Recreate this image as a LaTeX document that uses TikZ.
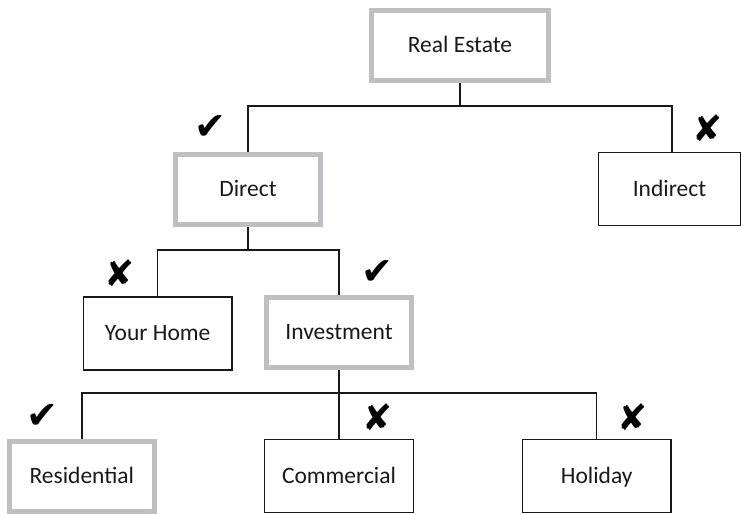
\documentclass[tikz,border=0pt]{standalone}
\usepackage{fontspec}
\setmainfont{Carlito}
\newfontfamily\markfont{DejaVu Sans}
\usetikzlibrary{backgrounds}
\definecolor{boxgray}{RGB}{190,190,195}
\definecolor{ink}{RGB}{25,25,25}
\tikzset{
  label text/.style={text=ink, font=\fontsize{23.5}{27}\selectfont,
    text height=14.5pt, text depth=0pt},
  chosen/.style={draw=boxgray, line width=5pt, fill=white,
    minimum width=145pt, minimum height=70pt, inner sep=0pt, label text},
  other/.style={draw=ink, line width=1.4pt, fill=white,
    minimum width=148.5pt, minimum height=73pt, inner sep=0pt, label text},
  link/.style={draw=ink, line width=1.4pt},
  yes/.style={text=black, font=\markfont\fontsize{38}{40}\selectfont, inner sep=0pt},
  no/.style={text=black, font=\markfont\fontsize{36}{40}\selectfont, inner sep=0pt}
}
\begin{document}
\begin{tikzpicture}[x=1pt, y=-1pt]
\useasboundingbox (0,0) rectangle (742,514);

% boxes
\node[chosen, minimum width=177pt] (re) at (460,45.5) {Real Estate};
\node[chosen] (direct) at (248,189.5) {Direct};
\node[other, minimum width=142.5pt, minimum height=72.5pt] (indirect) at (669.5,189) {Indirect};
\node[other] (home) at (157.7,333.5) {Your Home};
\node[chosen] (invest) at (339,332.5) {Investment};
\node[chosen] (resid) at (81.8,476.5) {Residential};
\node[other, minimum height=72.5pt] (comm) at (339,476) {Commercial};
\node[other, minimum height=72.5pt] (holiday) at (596.7,476) {Holiday};

% junction points of the tree
\coordinate (j1) at (460,106);
\coordinate (j2) at (248,250);
\coordinate (j3) at (339,393);
\coordinate (ind) at (672,152);

\begin{scope}[on background layer]
  \draw[link] (re.south) -- (j1);
  \draw[link] (direct.north) |- (j1) -| (ind);
  \draw[link] (direct.south) -- (j2);
  \draw[link] (home.north) |- (j2) -| (invest.north);
  \draw[link] (invest.south) -- (j3);
  \draw[link] (resid.north) |- (j3) -| (holiday.north);
  \draw[link] (j3) -- (comm.north);
\end{scope}

% ticks and crosses
\node[yes] (m1) at (210,128) {✔};
\node[no]  (m2) at (708,128) {✘};
\node[no]  (m3) at (120,273) {✘};
\node[yes] (m4) at (377,273) {✔};
\node[yes] (m5) at (42,417) {✔};
\node[no]  (m6) at (378,417) {✘};
\node[no]  (m7) at (633,417) {✘};
\end{tikzpicture}
\end{document}
